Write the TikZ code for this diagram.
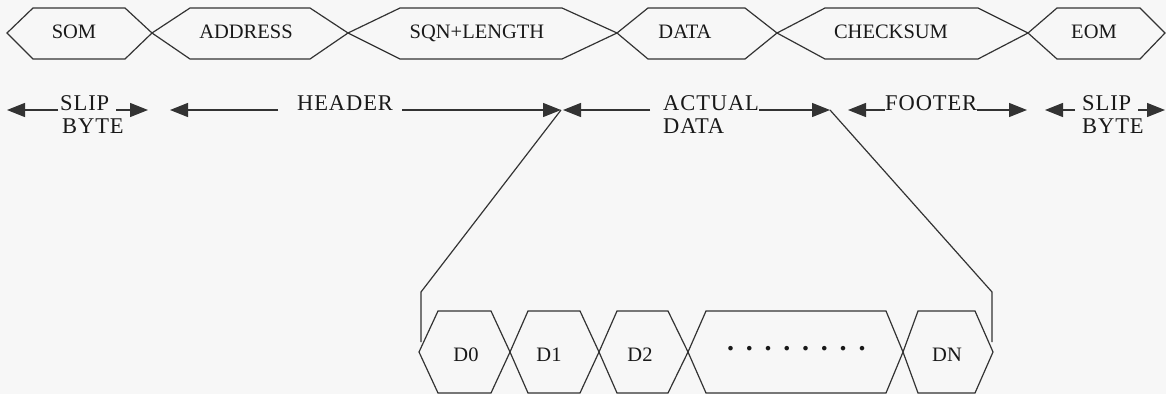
\documentclass[tikz,border=0pt]{standalone}
\usepackage{fontspec}
\setmainfont{Liberation Serif}
\usetikzlibrary{arrows.meta}

\tikzset{
    frame/.style={line width=1.2pt, draw=black!80, line join=miter},
    lbl/.style={inner sep=0pt, text=black!90, font=\fontsize{20.5}{24}\selectfont},
    lblw/.style={inner sep=0pt, text=black!90, anchor=base west,
        font=\fontsize{22.5}{26}\selectfont\addfontfeature{LetterSpace=4}},
    dimarrow/.style={line width=1.2pt, draw=black!80,
        -{Triangle[length=18pt,width=14pt]}},
}

\begin{document}
\begin{tikzpicture}[x=1pt, y=-1pt]

    % 描画範囲
    \useasboundingbox [fill=black!3] (0,0) rectangle (1166,394);

    % パラメータの定義
    \pgfmathsetmacro{\yt}{8}
    \pgfmathsetmacro{\ym}{33}
    \pgfmathsetmacro{\yb}{59}

    \pgfmathsetmacro{\dt}{311}
    \pgfmathsetmacro{\dm}{352}
    \pgfmathsetmacro{\db}{393}

    % フレーム (上段) の描画
    \draw [frame] (7,\ym) -- (33,\yt) -- (125,\yt) -- (152,\ym) -- (125,\yb) -- (33,\yb) -- cycle;
    \draw [frame] (152,\ym) -- (190,\yt) -- (310,\yt) -- (348,\ym) -- (310,\yb) -- (190,\yb) -- cycle;
    \draw [frame] (348,\ym) -- (400,\yt) -- (562,\yt) -- (617,\ym) -- (562,\yb) -- (400,\yb) -- cycle;
    \draw [frame] (617,\ym) -- (648,\yt) -- (745,\yt) -- (777,\ym) -- (745,\yb) -- (648,\yb) -- cycle;
    \draw [frame] (777,\ym) -- (825,\yt) -- (978,\yt) -- (1028,\ym) -- (978,\yb) -- (825,\yb) -- cycle;
    \draw [frame] (1028,\ym) -- (1057,\yt) -- (1140,\yt) -- (1165,\ym) -- (1140,\yb) -- (1057,\yb) -- cycle;

    \node [lbl, anchor=base] (som) at (74,38) {SOM};
    \node [lbl, anchor=base] (addr) at (246,38) {ADDRESS};
    \node [lbl, anchor=base] (sqn) at (477,38) {SQN+LENGTH};
    \node [lbl, anchor=base] (data) at (685,38) {DATA};
    \node [lbl, anchor=base] (chk) at (891,38) {CHECKSUM};
    \node [lbl, anchor=base] (eom) at (1094,38) {EOM};

    % 区間ラベル (中段)
    \node [lblw] (slipA) at (60,110) {SLIP};
    \node [lblw] (byteA) at (62,133) {BYTE};
    \node [lblw] (hdr) at (297,110) {HEADER};
    \node [lblw] (act) at (663,110) {ACTUAL};
    \node [lblw] (actd) at (663,133) {DATA};
    \node [lblw] (ftr) at (885,110) {FOOTER};
    \node [lblw] (slipB) at (1082,110) {SLIP};
    \node [lblw] (byteB) at (1082,133) {BYTE};

    % 矢印の先端
    \coordinate (slipAl) at (7,110);
    \coordinate (slipAr) at (148,110);
    \coordinate (hdrl) at (170,110);
    \coordinate (hdrr) at (561,110);
    \coordinate (actl) at (563,110);
    \coordinate (actr) at (830,110);
    \coordinate (ftrl) at (848,110);
    \coordinate (ftrr) at (1027,110);
    \coordinate (slipBl) at (1045,110);
    \coordinate (slipBr) at (1165,110);

    % 矢印の描画
    \draw [dimarrow, shorten <=2pt] (slipA.base west) -- (slipAl);
    \draw [dimarrow, shorten <=7pt] (slipA.base east) -- (slipAr);
    \draw [dimarrow, shorten <=19pt] (hdr.base west) -- (hdrl);
    \draw [dimarrow, shorten <=9pt] (hdr.base east) -- (hdrr);
    \draw [dimarrow, shorten <=13pt] (act.base west) -- (actl);
    \draw [dimarrow] (act.base east) -- (actr);
    \draw [dimarrow] (ftr.base west) -- (ftrl);
    \draw [dimarrow] (ftr.base east) -- (ftrr);
    \draw [dimarrow, shorten <=7pt] (slipB.base west) -- (slipBl);
    \draw [dimarrow, shorten <=7pt] (slipB.base east) -- (slipBr);

    % 拡大線の描画
    \coordinate (bendL) at (421,292);
    \coordinate (endL) at (421,342);
    \coordinate (bendR) at (992,292);
    \coordinate (endR) at (992,342);

    \draw [frame] (hdrr) -- (bendL) -- (endL);
    \draw [frame] (actr) -- (bendR) -- (endR);

    % フレーム (下段) の描画
    \draw [frame] (419,\dm) -- (438,\dt) -- (491,\dt) -- (510,\dm) -- (491,\db) -- (438,\db) -- cycle;
    \draw [frame] (510,\dm) -- (528,\dt) -- (580,\dt) -- (599,\dm) -- (580,\db) -- (528,\db) -- cycle;
    \draw [frame] (599,\dm) -- (617,\dt) -- (668,\dt) -- (688,\dm) -- (668,\db) -- (617,\db) -- cycle;
    \draw [frame] (688,\dm) -- (706,\dt) -- (886,\dt) -- (903,\dm) -- (886,\db) -- (706,\db) -- cycle;
    \draw [frame] (903,\dm) -- (918,\dt) -- (975,\dt) -- (993,\dm) -- (975,\db) -- (918,\db) -- cycle;

    \node [lbl, anchor=base] (d0) at (466,361) {D0};
    \node [lbl, anchor=base] (d1) at (549,361) {D1};
    \node [lbl, anchor=base] (d2) at (640,361) {D2};
    \node [lbl, anchor=base west, font=\fontsize{28}{30}\selectfont\bfseries\addfontfeature{LetterSpace=42}] (dots) at (727,350) {........};
    \node [lbl, anchor=base] (dn) at (947,361) {DN};

\end{tikzpicture}
\end{document}
